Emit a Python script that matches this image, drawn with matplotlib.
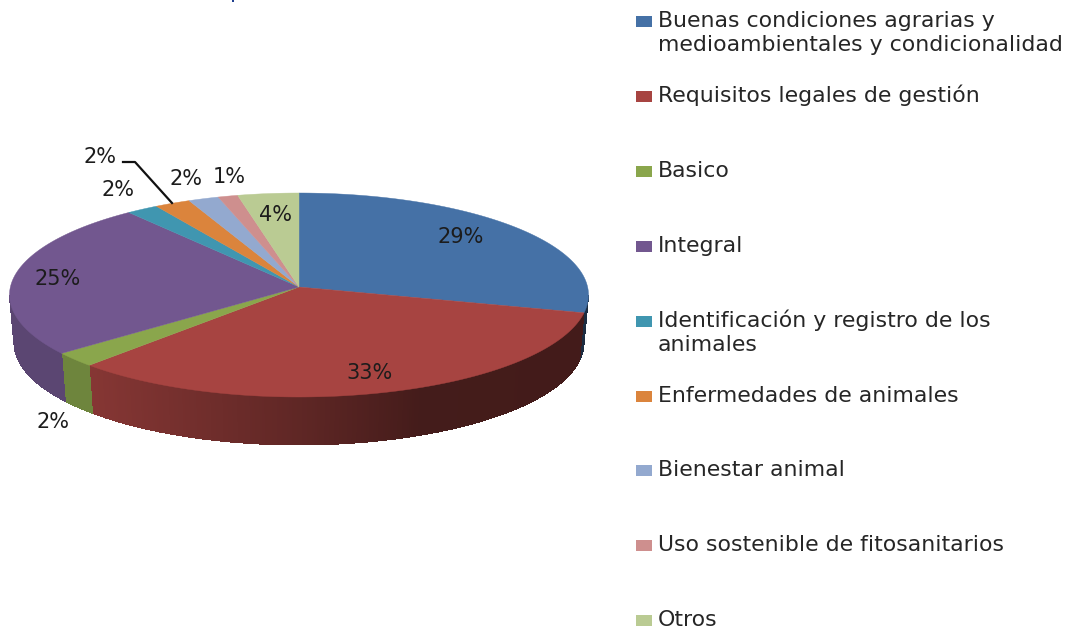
import numpy as np
import matplotlib
matplotlib.use("Agg")
import matplotlib.pyplot as plt
from matplotlib.collections import PolyCollection
from matplotlib.colors import to_rgb
from matplotlib.patches import Rectangle

categories = ["Buenas condiciones agrarias y\nmedioambientales y condicionalidad",
              "Requisitos legales de gestión",
              "Basico",
              "Integral",
              "Identificación y registro de los\nanimales",
              "Enfermedades de animales",
              "Bienestar animal",
              "Uso sostenible de fitosanitarios",
              "Otros"]
# slice sizes as drawn in the picture (the printed labels are rounded differently)
shares = [27.8, 35.1, 2.4, 24.7, 1.8, 2.0, 1.7, 1.1, 3.4]
pct_labels = ["29%", "33%", "2%", "25%", "2%", "2%", "2%", "1%", "4%"]
colors = ["#4571A6", "#A74441", "#8AA64C", "#72578F", "#4096B0",
          "#DB843C", "#93A9CF", "#CE8F8E", "#BACB93"]
label_pos = [(461, 237), (369, 373), (53, 422), (58, 279), (118, 190),
             (100, 157), (186, 179), (229, 177), (275, 215)]

# pie geometry in pixels
cx, cy = 299, 295
rx, ry = 289.5, 102
apex_y = 287
bottom_cy, bottom_rx = 343, 285

fig = plt.figure(figsize=(10.67, 6.26), dpi=100)
ax = fig.add_axes([0, 0, 1, 1])
ax.set_xlim(0, 1067)
ax.set_ylim(626, 0)
ax.axis("off")


def rim(t, r_x=rx, c_y=cy):
    return cx + r_x * np.sin(t), c_y - ry * np.cos(t)


def side_shade(x):
    # the side gets darker going left to right, flat after x=420
    return np.interp(x, [10, 90, 299, 420, 590], [0.80, 0.80, 0.57, 0.41, 0.40])


edges = np.radians(np.cumsum([0] + shares) * 3.6)

# side of the disc, thin strips for the gradient
polys, strip_colors = [], []
for i in range(len(shares)):
    lo = max(edges[i], np.pi / 2)
    hi = min(edges[i + 1], 3 * np.pi / 2)
    if hi <= lo:
        continue
    ts = np.linspace(lo, hi, int(np.degrees(hi - lo)) * 2 + 2)
    # solid piece under the strips so the outer edge stays smooth
    xa, ya = rim(ts)
    xb, yb = rim(ts[::-1], bottom_rx, bottom_cy)
    ax.fill(np.r_[xa, xb], np.r_[ya, yb], linewidth=0,
            color=tuple(c * side_shade(xa.mean()) for c in to_rgb(colors[i])))
    for a, b in zip(ts[:-1], ts[1:]):
        x1, y1 = rim(a)
        x2, y2 = rim(b)
        x3, y3 = rim(b, bottom_rx, bottom_cy)
        x4, y4 = rim(a, bottom_rx, bottom_cy)
        polys.append([(x1, y1), (x2, y2), (x3, y3), (x4, y4)])
        shade = side_shade((x1 + x2) / 2)
        strip_colors.append(tuple(c * shade for c in to_rgb(colors[i])))
ax.add_collection(PolyCollection(polys, facecolors=strip_colors, edgecolors="none", antialiaseds=False))

# top of the disc
for i in range(len(shares)):
    ts = np.linspace(edges[i], edges[i + 1], 200)
    xs, ys = rim(ts)
    ax.fill(np.r_[cx, xs], np.r_[apex_y, ys], color=colors[i], linewidth=0.3)

for txt, (x, y) in zip(pct_labels, label_pos):
    ax.text(x, y, txt, ha="center", va="center", fontsize=15, color="#1c1c1c")

# leader line of the orange slice
ax.plot([123, 135, 172], [162, 162, 203], color="#111111", linewidth=1.6)

# legend, one row every 75 px
for i, name in enumerate(categories):
    y = 21.5 + 74.9 * i
    ax.add_patch(Rectangle((636, y - 5.5), 16, 11, color=colors[i], linewidth=0))
    for j, line in enumerate(name.split("\n")):
        ax.text(658, y + 5.5 + 24 * j, line, ha="left", va="baseline", fontsize=15.8, color="#262626")

# bit of clipped text at the top edge
ax.add_patch(Rectangle((232, 0), 2, 2, color="#1F3F8F", linewidth=0))

fig.savefig("out.png", dpi=100)
